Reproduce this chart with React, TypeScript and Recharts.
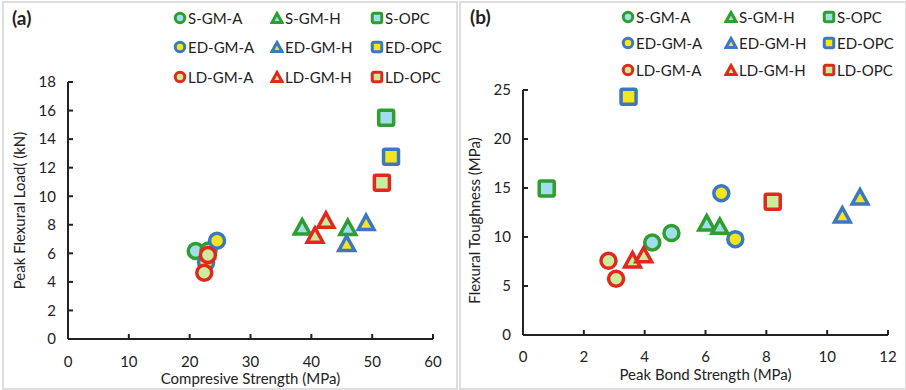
import { Label, Scatter, ScatterChart, XAxis, YAxis } from "recharts";

const FONT = 'Lato, "Open Sans", sans-serif';

// series names, in legend order
const seriesNames = [
  "S-GM-A", "S-GM-H", "S-OPC",
  "ED-GM-A", "ED-GM-H", "ED-OPC",
  "LD-GM-A", "LD-GM-H", "LD-OPC",
];

// panel (a): compressive strength (MPa) vs peak flexural load (kN)
const strengthA = {
  "S-GM-A": [[21.0, 6.16], [23.1, 6.2]],
  "ED-GM-A": [[24.5, 6.88], [22.7, 5.35]],
  "LD-GM-A": [[23.0, 5.88], [22.4, 4.64]],
  "S-GM-H": [[38.5, 7.86], [46.0, 7.82]],
  "ED-GM-H": [[49.0, 8.17], [45.8, 6.7]],
  "LD-GM-H": [[42.4, 8.33], [40.6, 7.28]],
  "S-OPC": [[52.3, 15.5]],
  "ED-OPC": [[53.1, 12.77]],
  "LD-OPC": [[51.6, 10.95]],
};

// panel (b): peak bond strength (MPa) vs flexural toughness (MPa)
const bondB = {
  "S-GM-A": [[4.88, 10.4], [4.25, 9.44]],
  "ED-GM-A": [[6.52, 14.47], [6.98, 9.78]],
  "LD-GM-A": [[2.81, 7.57], [3.06, 5.74]],
  "S-GM-H": [[6.04, 11.45], [6.47, 11.1]],
  "ED-GM-H": [[11.08, 14.1], [10.5, 12.26]],
  "LD-GM-H": [[3.6, 7.67], [3.97, 8.19]],
  "S-OPC": [[0.78, 14.94]],
  "ED-OPC": [[3.47, 24.3]],
  "LD-OPC": [[8.21, 13.59]],
};

const ticksAX = [0, 10, 20, 30, 40, 50, 60];
const ticksAY = [0, 2, 4, 6, 8, 10, 12, 14, 16, 18];
const ticksBX = [0, 2, 4, 6, 8, 10, 12];
const ticksBY = [0, 5, 10, 15, 20, 25];

const drawOrder = [
  "S-GM-A", "ED-GM-A", "LD-GM-A",
  "S-GM-H", "ED-GM-H", "LD-GM-H",
  "S-OPC", "ED-OPC", "LD-OPC",
];

const styleOf = (name: string) => {
  const stroke = name.startsWith("S-") ? "#2E9E30" : name.startsWith("ED-") ? "#3A78C2" : "#E2281C";
  const fill = name.startsWith("S-") ? "#A2DDEB" : name.startsWith("ED-") ? "#F8E41C" : "#CBEC9C";
  const kind = name.endsWith("-A") ? "circle" : name.endsWith("-H") ? "triangle" : "square";
  return { stroke, fill, kind };
};

const Marker = ({ cx, cy, name, size, sw }: any) => {
  const { stroke, fill, kind } = styleOf(name);
  if (kind === "circle") {
    return <circle cx={cx} cy={cy} r={size / 2} fill={fill} stroke={stroke} strokeWidth={sw} />;
  }
  if (kind === "square") {
    return (
      <rect x={cx - size / 2} y={cy - size / 2} width={size} height={size} rx={1.5}
        fill={fill} stroke={stroke} strokeWidth={sw} />
    );
  }
  const h = size * 0.95;
  const w = size * 1.05;
  const pts = `${cx},${cy - h / 2} ${cx + w / 2},${cy + h / 2} ${cx - w / 2},${cy + h / 2}`;
  return <polygon points={pts} fill={fill} stroke={stroke} strokeWidth={sw} strokeLinejoin="miter" />;
};

const axisStyle = { stroke: "#222", strokeWidth: 2 };
const tickStyle = { fill: "#222", fontSize: 15, fontFamily: FONT };

const Legend = ({ cols, rows }: any) => (
  <>
    {seriesNames.map((name, i) => {
      const x = cols[i % 3];
      const y = rows[Math.floor(i / 3)];
      return (
        <div key={name} style={{ position: "absolute", left: x - 7, top: y - 9, display: "flex",
          alignItems: "center", fontFamily: FONT, fontSize: 15, color: "#222", lineHeight: "18px" }}>
          <svg width={14} height={14} style={{ marginRight: 1 }}>
            <Marker cx={7} cy={7} name={name} size={9.5} sw={3} />
          </svg>
          <span>{name}</span>
        </div>
      );
    })}
  </>
);

const Panel = ({ data, ticksX, ticksY, xMax, yMax, xTitle, yTitle, margin, width, yLabelDy, tickGap }: any) => (
  <ScatterChart width={width} height={390} margin={margin}>
    <XAxis type="number" dataKey="x" domain={[0, xMax]} ticks={ticksX} interval={0}
      axisLine={axisStyle} tickLine={axisStyle} tickSize={-5} tickMargin={tickGap} tick={tickStyle} height={46}>
      <Label value={xTitle} position="insideBottom" offset={1}
        style={{ fontFamily: FONT, fontSize: 15, fill: "#222" }} />
    </XAxis>
    <YAxis type="number" dataKey="y" domain={[0, yMax]} ticks={ticksY} interval={0}
      axisLine={axisStyle} tickLine={axisStyle} tickSize={-5} tickMargin={17} tick={tickStyle} width={56}>
      <Label value={yTitle} angle={-90} position="insideLeft" offset={8} dy={yLabelDy}
        style={{ fontFamily: FONT, fontSize: 15, fill: "#222", textAnchor: "middle", whiteSpace: "pre" }} />
    </YAxis>
    {drawOrder.map((name) => (
      <Scatter key={name} name={name} isAnimationActive={false}
        data={data[name].map(([x, y]: number[]) => ({ x, y }))}
        shape={(p: any) => <Marker cx={p.cx} cy={p.cy} name={name} size={15} sw={3.5} />} />
    ))}
  </ScatterChart>
);

export default function App() {
  return (
    <div style={{ position: "absolute", left: 0, top: 0, width: 906, height: 390, background: "#fff", overflow: "hidden" }}>
      <div style={{ position: "absolute", left: 2, top: 1, width: 452, height: 385, border: "2px solid #dedede" }} />
      <div style={{ position: "absolute", left: 459, top: 1, width: 444, height: 385, border: "2px solid #dedede" }} />

      <div style={{ position: "absolute", left: 0, top: 0 }}>
        <Panel data={strengthA} ticksX={ticksAX} ticksY={ticksAY} xMax={60} yMax={18}
          xTitle="Compresive Strength (MPa)" yTitle="Peak Flexural Load( (kN)" tickGap={22}
          width={455} margin={{ top: 82, right: 22, bottom: 5, left: 12 }} yLabelDy={0} />
      </div>
      <div style={{ position: "absolute", left: 458, top: 0 }}>
        <Panel data={bondB} ticksX={ticksBX} ticksY={ticksBY} xMax={12} yMax={25}
          xTitle="Peak Bond Strength (MPa)" yTitle="Flexural Toughness  (MPa)" tickGap={21}
          width={448} margin={{ top: 90, right: 18, bottom: 9, left: 9 }} yLabelDy={8} />
      </div>

      <div style={{ position: "absolute", left: 12, top: 6, fontFamily: FONT, fontWeight: 700, fontSize: 19, color: "#222" }}>(a)</div>
      <div style={{ position: "absolute", left: 470, top: 5, fontFamily: FONT, fontWeight: 700, fontSize: 19, color: "#222" }}>(b)</div>

      <Legend cols={[180, 277, 377]} rows={[18, 47, 77]} />
      <Legend cols={[628, 731, 829]} rows={[17, 43, 70]} />
    </div>
  );
}
